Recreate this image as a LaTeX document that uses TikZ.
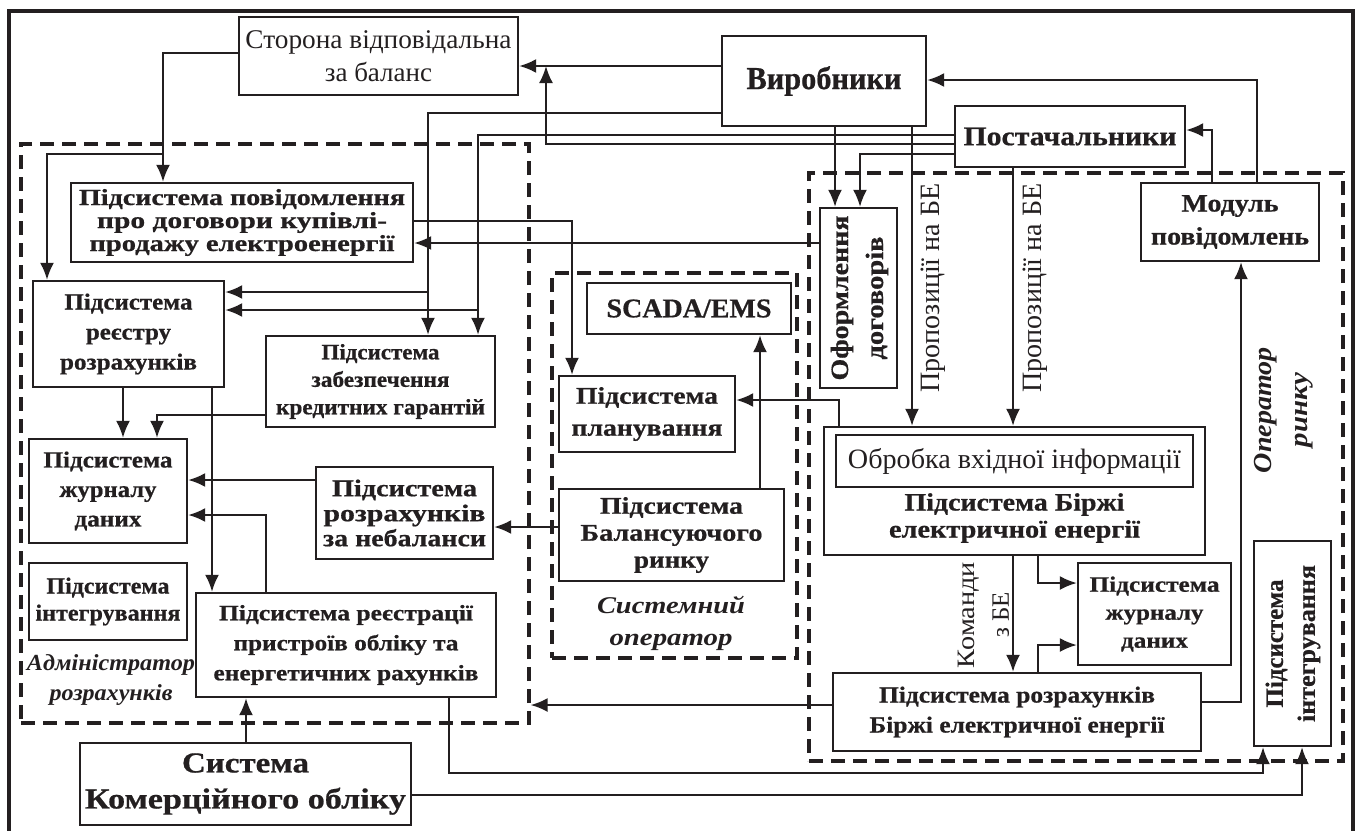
\documentclass[tikz,border=0pt]{standalone}
\usepackage{fontspec}
\setmainfont{Liberation Serif}[BoldFeatures={FakeBold=0.6}]
\usepackage{graphicx}
\usetikzlibrary{arrows.meta}
\definecolor{ink}{RGB}{35,31,32}
\newcommand\LW[2]{\resizebox{#1pt}{\height}{#2}}
\newcommand\RT[1]{\rotatebox{90}{\begin{tabular}{@{}c@{}}#1\end{tabular}}}
\tikzset{
 box/.style={draw=ink, line width=2.3pt, inner sep=0pt, align=center, text=ink, fill=white},
 region/.style={draw=ink, line width=3.2pt, dash pattern=on 14pt off 8pt, inner sep=0pt},
 arr/.style={draw=ink, line width=2.2pt, -{Latex[length=17pt,width=14pt]}},
 txt/.style={inner sep=0pt, align=center, text=ink},
 sz/.style 2 args={minimum width=#1, minimum height=#2},
 bf/.style 2 args={font=\fontsize{#1}{#2}\selectfont\bfseries},
 rm/.style 2 args={font=\fontsize{#1}{#2}\selectfont},
 itb/.style 2 args={font=\fontsize{#1}{#2}\selectfont\bfseries\itshape},
}
\begin{document}
\begin{tikzpicture}[x=1pt,y=-1pt]
\useasboundingbox (0,0) rectangle (1356,830);
\fill[white] (0,0) rectangle (1356,830);
\draw[ink, line width=4pt] (9,840) -- (9,11) -- (1353,11) -- (1353,840);

% dashed regions
\node[region, sz={508}{579}] (admin) at (275,433.5) {};
\node[region, sz={245}{385}] (sysop) at (674.5,465.5) {};
\node[region, sz={534}{588}] (market) at (1076,467) {};

% boxes
\node[box, rm={27}{33}, sz={279}{78}] (storona) at (378.5,56) {\LW{266}{Сторона відповідальна}\\за баланс};
\node[box, bf={32}{36}, sz={204}{90}] (vyrob) at (824,81) {\LW{155}{Виробники}};
\node[box, bf={27}{30}, sz={230}{61}] (postach) at (1070,136.5) {\LW{213}{Постачальники}};
\node[box, bf={25}{33}, sz={178}{78}] (modul) at (1230,222) {\LW{97}{Модуль}\\\LW{158}{повідомлень}};
\node[box, bf={25}{35}, sz={77}{180}] (ofor) at (858.5,298) {\RT{\LW{165}{Оформлення}\\\LW{123}{договорів}}};
\node[box, sz={381}{128}] (birzha) at (1014.5,491) {};
\node[box, rm={28}{34}, sz={357}{52}] (obrob) at (1014.5,461) {\LW{333}{Обробка вхідної інформації}};
\node[txt, bf={25}{27}] (birzhaT) at (1014.5,518) {\LW{220}{Підсистема Біржі}\\\LW{251}{електричної енергії}};
\node[box, bf={22}{28}, sz={153}{102}] (zhurR) at (1154.5,614) {\LW{130}{Підсистема}\\\LW{98}{журналу}\\\LW{67}{даних}};
\node[box, bf={23}{30}, sz={368}{78}] (rozrB) at (1017,712) {\LW{276}{Підсистема розрахунків}\\\LW{295}{Біржі електричної енергії}};
\node[box, bf={25}{32}, sz={77}{205}] (integR) at (1292.5,643.5) {\RT{\LW{128}{Підсистема}\\\LW{157}{інтегрування}}};
\node[box, bf={27}{32}, sz={204}{51}] (scada) at (689,308.5) {\LW{165}{SCADA/EMS}};
\node[box, bf={24}{32}, sz={176}{76}] (plan) at (647,414) {\LW{142}{Підсистема}\\\LW{151}{планування}};
\node[box, bf={24}{27}, sz={225}{92}] (balans) at (671.5,535) {\LW{143}{Підсистема}\\\LW{182}{Балансуючого}\\\LW{75}{ринку}};
\node[box, bf={23}{23}, sz={342}{79}] (povid) at (242,222.5) {\LW{326}{Підсистема повідомлення}\\\LW{290}{про договори купівлі-}\\\LW{305}{продажу електроенергії}};
\node[box, bf={23}{30}, sz={191}{106}] (reestr) at (128.5,334) {\LW{128}{Підсистема}\\\LW{85}{реєстру}\\\LW{137}{розрахунків}};
\node[box, bf={23}{29.5}, sz={158}{104}] (zhurL) at (108,491) {\LW{129}{Підсистема}\\\LW{97}{журналу}\\\LW{67}{даних}};
\node[box, bf={22}{27.5}, sz={229}{91}] (garant) at (380.5,381.5) {\LW{118}{Підсистема}\\\LW{138}{забезпечення}\\\LW{209}{кредитних гарантій}};
\node[box, bf={24}{25}, sz={177}{92}] (nebal) at (404.5,513) {\LW{145}{Підсистема}\\\LW{162}{розрахунків}\\\LW{163}{за небаланси}};
\node[box, bf={23}{27}, sz={158}{77}] (integL) at (108,601.5) {\LW{123}{Підсистема}\\\LW{145}{інтегрування}};
\node[box, bf={22}{30}, sz={300}{104}] (reestr2) at (346,645) {\LW{254}{Підсистема реєстрації}\\\LW{225}{пристроїв обліку та}\\\LW{265}{енергетичних рахунків}};
\node[box, bf={29}{36}, sz={331}{82}] (komerc) at (245.5,784) {\LW{127}{Система}\\\LW{321}{Комерційного обліку}};

% labels
\node[txt, itb={23}{30}] (alab) at (111,680) {\LW{168}{Адміністратор}\\\LW{123}{розрахунків}};
\node[txt, itb={24}{32}] (slab) at (671,623) {\LW{148}{Системний}\\\LW{123}{оператор}};
\node[txt, itb={26}{36}] (mlab) at (1282,410) {\RT{\LW{126}{Оператор}\\\LW{74}{ринку}}};
\node[txt, rm={28}{34}] (prop1) at (933,288) {\rotatebox{90}{\LW{209}{Пропозиції на БЕ}}};
\node[txt, rm={28}{34}] (prop2) at (1035,288) {\rotatebox{90}{\LW{209}{Пропозиції на БЕ}}};
\node[txt, rm={25}{34}] (kom) at (985,615) {\RT{\LW{106}{Команди}\\з БЕ}};

% bend coordinates
\coordinate (y66) at (546,66);
\coordinate (k2) at (546,144);
\coordinate (k3) at (428,113);
\coordinate (k3b) at (428,292);
\coordinate (k4) at (478,135);
\coordinate (k4b) at (478,310);
\coordinate (k5) at (860,154);
\coordinate (k6) at (835,150);
\coordinate (k7) at (912,300);
\coordinate (k8) at (1013,300);
\coordinate (k9) at (600,243);
\coordinate (k10) at (572,221);
\coordinate (k11) at (163,53);
\coordinate (k11b) at (163,154);
\coordinate (k11c) at (47,154);
\coordinate (k12) at (123,410);
\coordinate (k13) at (157,415);
\coordinate (k14) at (212,500);
\coordinate (k15) at (250,480);
\coordinate (k16) at (266,515);
\coordinate (k17) at (520,527);
\coordinate (k18) at (760,400);
\coordinate (k19) at (839,400);
\coordinate (k20) at (1013,600);
\coordinate (k21) at (1038,583);
\coordinate (k22) at (1038,645);
\coordinate (k23) at (1241,702);
\coordinate (k24) at (1212,130);
\coordinate (k25) at (1257,80);
\coordinate (k26) at (700,705);
\coordinate (k27) at (246,720);
\coordinate (k28a) at (449,773);
\coordinate (k28b) at (1263,773);
\coordinate (k29) at (1302,795);

% connectors
\draw[arr] (y66 -| vyrob.west) -- (y66 -| storona.east);
\draw[arr] (k2 -| postach.west) -- (k2) -- (y66);
\draw[arr] (k3 -| vyrob.west) -- (k3) -- (k3 |- garant.north);
\draw[arr] (k3b) -- (k3b -| reestr.east);
\draw[arr] (k4 -| postach.west) -- (k4) -- (k4 |- garant.north);
\draw[arr] (k4b) -- (k4b -| reestr.east);
\draw[arr] (k5 -| postach.west) -- (k5) -- (k5 |- ofor.north);
\draw[arr] (k6 |- vyrob.south) -- (k6 |- ofor.north);
\draw[arr] (k7 |- vyrob.south) -- (k7 |- birzha.north);
\draw[arr] (k8 |- postach.south) -- (k8 |- birzha.north);
\draw[arr] (k9 -| ofor.west) -- (k9 -| povid.east);
\draw[arr] (k10 -| povid.east) -- (k10) -- (k10 |- plan.north);
\draw[arr] (k11 -| storona.west) -- (k11) -- (k11 |- povid.north);
\draw[arr] (k11b) -- (k11c) -- (k11c |- reestr.north);
\draw[arr] (k12 |- reestr.south) -- (k12 |- zhurL.north);
\draw[arr] (k13 -| garant.west) -- (k13) -- (k13 |- zhurL.north);
\draw[arr] (k14 |- reestr.south) -- (k14 |- reestr2.north);
\draw[arr] (k15 -| nebal.west) -- (k15 -| zhurL.east);
\draw[arr] (k16 |- reestr2.north) -- (k16) -- (k16 -| zhurL.east);
\draw[arr] (k17 -| balans.west) -- (k17 -| nebal.east);
\draw[arr] (k18 |- balans.north) -- (k18 |- scada.south);
\draw[arr] (k19 |- birzha.north) -- (k19) -- (k19 -| plan.east);
\draw[arr] (k20 |- birzha.south) -- (k20 |- rozrB.north);
\draw[arr] (k21 |- birzha.south) -- (k21) -- (k21 -| zhurR.west);
\draw[arr] (k22 |- rozrB.north) -- (k22) -- (k22 -| zhurR.west);
\draw[arr] (k23 -| rozrB.east) -- (k23) -- (k23 |- modul.south);
\draw[arr] (k24 |- modul.north) -- (k24) -- (k24 -| postach.east);
\draw[arr] (k25 |- modul.north) -- (k25) -- (k25 -| vyrob.east);
\draw[arr] (k26 -| rozrB.west) -- (k26 -| admin.east);
\draw[arr] (k27 |- komerc.north) -- (k27 |- reestr2.south);
\draw[arr] (k28a |- reestr2.south) -- (k28a) -- (k28b) -- (k28b |- integR.south);
\draw[arr] (k29 -| komerc.east) -- (k29) -- (k29 |- integR.south);
\end{tikzpicture}
\end{document}
